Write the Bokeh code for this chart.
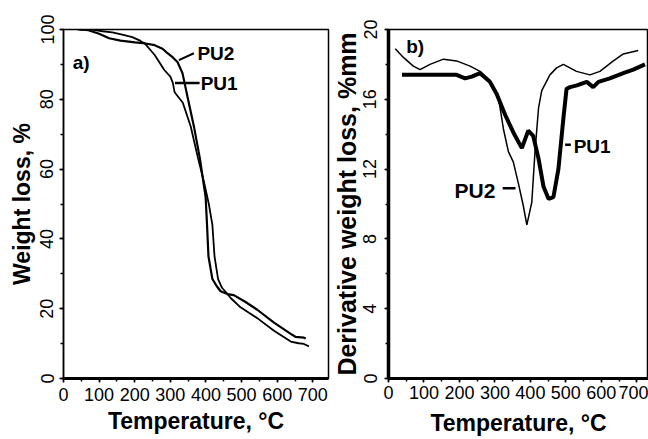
from bokeh.plotting import figure
from bokeh.layouts import row
from bokeh.models import SingleIntervalTicker, Title, Label, Range1d
from bokeh.embed import file_html
from bokeh.resources import INLINE

FONT = "Liberation Sans"

# ---- Panel a) TGA: weight loss (%) vs temperature (°C)
tga_pu1_temp = [40, 80, 110, 137, 165, 193, 215, 228, 256, 283, 300, 307, 312, 335, 357, 378,
                395, 408, 418, 424, 434, 445, 458, 470, 497, 544, 591, 638, 660, 675, 689]
tga_pu1_weight = [100, 100, 99.5, 99.2, 98.5, 97.8, 96.8, 96, 92.7, 88.4, 86.5, 84.7, 82, 79, 72.3, 63,
                  56, 50, 44, 35, 28.5, 26, 24.5, 23, 20.4, 17.3, 13.7, 10.6, 10.1, 9.9, 9.2]
tga_pu2_temp = [45, 70, 100, 128, 160, 201, 230, 256, 278, 292, 307, 320, 334, 348, 366, 383,
                399, 403, 407, 418, 430, 441, 460, 478, 510, 544, 591, 638, 652, 675, 680]
tga_pu2_weight = [100, 99.8, 98.8, 97.5, 96.8, 96.3, 96, 95.5, 94.5, 93.2, 92, 90.7, 87.5, 80.8, 72.3, 63,
                  52, 44, 35, 28.5, 26.5, 25, 24.2, 23.9, 22, 19.7, 16, 12.8, 11.9, 11.7, 11.5]

# ---- Panel b) DTG: derivative weight loss vs temperature
dtg_pu1_temp = [38, 100, 192, 216, 235, 258, 286, 305, 329, 352, 376, 385, 394, 408, 423, 437, 451,
                465, 479, 493, 502, 512, 531, 559, 577, 592, 624, 662, 690, 723]
dtg_pu1_rate = [17.4, 17.4, 17.4, 17.2, 17.3, 17.5, 17.0, 16.3, 15.1, 14.1, 13.2, 13.7, 14.2, 13.9, 12.6,
                11.0, 10.3, 10.4, 12.0, 14.9, 16.6, 16.7, 16.8, 17.0, 16.7, 17.0, 17.2, 17.5, 17.7, 18.0]
dtg_pu2_temp = [19, 42, 70, 89, 117, 155, 192, 230, 258, 277, 296, 310, 324, 338, 352, 366, 380, 390,
                404, 413, 423, 432, 455, 474, 493, 530, 568, 596, 634, 662, 704]
dtg_pu2_rate = [18.9, 18.4, 17.9, 17.7, 18.0, 18.3, 18.2, 17.9, 17.6, 17.2, 16.7, 16.1, 14.3, 13.0, 12.4,
                11.2, 9.9, 8.8, 10.1, 13.0, 15.5, 16.5, 17.4, 17.8, 18.0, 17.6, 17.4, 17.6, 18.2, 18.6, 18.8]

x_title = "Temperature, \u00b0C"
y_title_a = "Weight loss, %"
y_title_b = "Derivative weight loss, %mm"


def style(p, xint, yint, left_w, bottom_w):
    p.grid.visible = False
    p.outline_line_color = "black"
    p.outline_line_width = 1.5
    p.background_fill_color = "white"
    p.border_fill_color = "white"
    p.xaxis.ticker = SingleIntervalTicker(interval=xint, num_minor_ticks=2)
    p.yaxis.ticker = SingleIntervalTicker(interval=yint, num_minor_ticks=2)
    for ax in (p.xaxis[0], p.yaxis[0]):
        ax.axis_line_color = "black"
        ax.major_tick_line_color = "black"
        ax.minor_tick_line_color = "black"
        ax.major_tick_line_width = 1.5
        ax.minor_tick_line_width = 1.5
        ax.major_tick_in = 0
        ax.major_tick_out = 4
        ax.minor_tick_in = 0
        ax.minor_tick_out = 3
        ax.major_label_text_font = FONT
        ax.major_label_text_font_size = "18px"
        ax.major_label_text_color = "black"
        ax.axis_label_text_font = FONT
        ax.axis_label_text_font_style = "bold"
        ax.axis_label_text_font_size = "23px"
        ax.axis_label_text_color = "black"
    p.yaxis.axis_line_width = left_w
    p.xaxis.axis_line_width = bottom_w
    p.yaxis.major_label_orientation = "vertical"
    p.xaxis.axis_label = x_title


def label(p, x, y, text, size="19px"):
    p.add_layout(Label(x=x, y=y, text=text, text_font=FONT, text_font_style="bold",
                       text_font_size=size, text_color="black",
                       text_align="left", text_baseline="middle"))


# ---------------- panel a
p1 = figure(width=330, height=439, x_range=Range1d(0, 744), y_range=Range1d(0, 100),
            title=None, output_backend="svg", toolbar_location=None,
            min_border_left=63, min_border_right=2, min_border_top=29, min_border_bottom=56)
style(p1, 100, 20, 1.5, 3)
p1.xaxis.major_label_standoff = 5
p1.xaxis.axis_label_standoff = 4
p1.yaxis.major_label_standoff = 6
p1.yaxis.axis_label = y_title_a
p1.yaxis.axis_label_standoff = 3

p1.line(tga_pu1_temp, tga_pu1_weight, line_color="black", line_width=1.8)
p1.line(tga_pu2_temp, tga_pu2_weight, line_color="black", line_width=2.2)

# annotations panel a
lead_a_pu2 = ([324, 366], [91.2, 93.2])
lead_a_pu1 = ([313, 382], [84.7, 84.7])
p1.line(*lead_a_pu2, line_color="black", line_width=2)
p1.line(*lead_a_pu1, line_color="black", line_width=2.5)
label(p1, 26, 90.5, "a)")
label(p1, 376, 93.0, "PU2")
label(p1, 385, 84.5, "PU1")

# ---------------- panel b
p2 = figure(width=318, height=439, x_range=Range1d(0, 733), y_range=Range1d(0, 20),
            title=None, output_backend="svg", toolbar_location=None,
            min_border_left=57, min_border_right=0, min_border_top=29, min_border_bottom=61)
style(p2, 100, 4, 3.5, 3)
p2.xaxis.major_label_standoff = 3
p2.xaxis.axis_label_standoff = 8
p2.yaxis.major_label_standoff = 8
p2.add_layout(Title(text=y_title_b, align="center", offset=19, standoff=0,
                    text_font=FONT, text_font_style="bold", text_font_size="25px",
                    text_color="black"), "left")

p2.line(dtg_pu2_temp, dtg_pu2_rate, line_color="black", line_width=1.5)
p2.line(dtg_pu1_temp, dtg_pu1_rate, line_color="black", line_width=4)

lead_b_pu1 = ([498, 514], [13.4, 13.4])
lead_b_pu2 = ([322, 358], [10.9, 10.9])
p2.line(*lead_b_pu1, line_color="black", line_width=2.5)
p2.line(*lead_b_pu2, line_color="black", line_width=2.5)
label(p2, 50, 19.0, "b)")
label(p2, 522, 13.3, "PU1")
label(p2, 186, 10.8, "PU2", size="21px")

layout = row(p1, p2)
open("out.html", "w").write(file_html(layout, INLINE))
